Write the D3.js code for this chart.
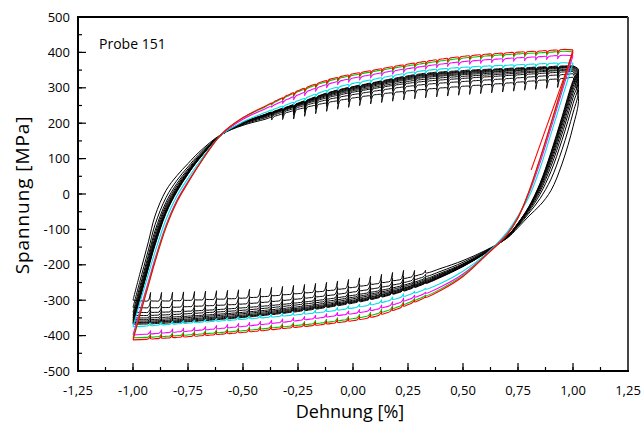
<!DOCTYPE html>
<html><head><meta charset="utf-8">
<script src="https://cdn.jsdelivr.net/npm/d3@7"></script>
<style>body{margin:0;background:#fff}svg{display:block}</style>
</head><body>
<svg id="chart" width="644" height="423"></svg>
<script>
// ---------- data ----------
const xTicks = [-1.25,-1.0,-0.75,-0.5,-0.25,0,0.25,0.5,0.75,1.0,1.25];
const yTicks = [-500,-400,-300,-200,-100,0,100,200,300,400,500];
const upperStrain = [-1.0,-0.97,-0.93,-0.9,-0.85,-0.8,-0.75,-0.7,-0.6,-0.5,-0.4,-0.25,-0.1,0.1,0.3,0.5,0.7,0.85,1.0];
const lowerStrainBlack = [1.0,1.025,1.0,0.95,0.9,0.85,0.8,0.75,0.7,0.6,0.5,0.4,0.25,0.1,-0.1,-0.3,-0.5,-0.7,-0.85,-1.0];
const lowerStrainColor = [1.0,0.97,0.93,0.9,0.85,0.8,0.75,0.7,0.6,0.5,0.4,0.25,0.1,-0.1,-0.3,-0.5,-0.7,-0.85,-1.0];
const holdStrains = [-0.92,-0.87,-0.82,-0.77,-0.72,-0.67,-0.62,-0.57,-0.52,-0.47,-0.42,-0.37,-0.32,-0.27,-0.22,-0.17,-0.12,-0.07,-0.02,0.03,0.08,0.13,0.18,0.23,0.28,0.33,0.38,0.43,0.48,0.53,0.58,0.63,0.68,0.73,0.78,0.83,0.88,0.93];

// black cycles (stress in MPa at the strain grids)
const blackUpper = [
  [-300,-228,-135,-62,10,52,86,118,168,194,211,237,258,278,292,302,311,319,330],
  [-320,-250,-158,-87,-10,39,77,112,167,196,215,243,267,289,306,316,324,331,340],
  [-334,-264,-173,-104,-23,30,71,108,167,198,218,247,273,297,315,325,333,339,346],
  [-343,-273,-182,-114,-31,24,67,105,167,199,220,249,277,301,321,331,338,344,350],
  [-350,-281,-190,-123,-37,19,64,103,167,200,221,251,280,305,326,336,342,347,353],
  [-355,-286,-196,-129,-43,16,62,102,166,200,222,252,282,308,329,339,346,351,356],
  [-359,-291,-200,-134,-47,13,60,101,166,201,223,254,284,310,332,342,348,353,358],
  [-363,-294,-204,-138,-50,11,58,100,166,201,224,254,286,312,334,344,351,355,359],
  [-365,-297,-207,-142,-52,9,57,99,166,202,224,255,287,314,336,346,352,356,361],
  [-368,-300,-210,-145,-55,7,56,98,166,202,225,256,288,315,338,348,354,358,362]
];
const blackLower = [
  [330,270,190,85,10,-32,-62,-95,-125,-160,-188,-210,-235,-252,-270,-282,-292,-297,-300,-300],
  [340,295,229,125,42,-13,-54,-91,-124,-162,-193,-218,-246,-265,-284,-298,-309,-315,-319,-320],
  [346,311,255,152,64,-1,-49,-89,-123,-164,-197,-223,-253,-274,-294,-309,-320,-328,-332,-334],
  [350,322,272,169,78,7,-45,-87,-122,-165,-199,-226,-257,-279,-300,-315,-327,-335,-340,-343],
  [353,330,285,182,89,13,-42,-86,-121,-166,-200,-228,-261,-283,-305,-321,-333,-342,-347,-350],
  [356,336,295,193,97,18,-40,-84,-121,-166,-202,-230,-263,-287,-309,-325,-337,-346,-352,-355],
  [358,341,303,201,104,22,-39,-84,-121,-167,-203,-232,-265,-289,-312,-328,-341,-350,-356,-359],
  [359,345,310,207,109,25,-37,-83,-120,-167,-204,-233,-267,-292,-314,-331,-344,-353,-359,-363],
  [361,349,315,213,114,28,-36,-83,-120,-168,-204,-234,-269,-293,-316,-333,-346,-356,-361,-365],
  [362,352,320,218,118,30,-35,-82,-120,-168,-205,-235,-270,-295,-318,-335,-348,-358,-364,-368]
];
const blackRelax = [22,17,14,12,10,9,8,7,6,6];

// coloured cycles
const colorNames = ["cyan","magenta","green","red"];
const colorStroke = ["#00e0e8","#ff00ff","#00c800","#ff0000"];
const colorUpper = [
  [-375,-310,-226,-164,-72,-5,44,89,166,204,230,263,296,324,346,357,363,367,370],
  [-398,-333,-247,-183,-88,-17,35,83,167,211,240,279,312,338,358,373,382,387,391],
  [-406,-341,-254,-189,-92,-20,33,82,168,215,246,288,320,346,366,383,393,398,402],
  [-412,-346,-258,-192,-95,-22,32,82,168,216,248,291,324,350,371,388,398,403,407]
];
const colorLower = [
  [370,310,230,170,72,-8,-62,-108,-172,-218,-252,-285,-310,-330,-343,-353,-362,-368,-375],
  [391,330,248,187,88,2,-64,-112,-174,-226,-262,-298,-326,-345,-360,-373,-384,-391,-398],
  [402,340,258,197,98,6,-66,-114,-175,-230,-268,-307,-339,-360,-373,-385,-395,-401,-406],
  [407,345,262,200,100,8,-68,-116,-176,-233,-272,-312,-345,-365,-378,-390,-400,-406,-412]
];
const colorRelax = [7,8,8,8];
const redStart = [[0.81,68],[1.0,400]];
const upperHoldRange = [-0.37, 0.93];
const lowerHoldRange = [-0.92, 0.33];

// ---------- scales ----------
const svg = d3.select("#chart");
const x = d3.scaleLinear().domain([-1.25,1.25]).range([78,628]);
const y = d3.scaleLinear().domain([-500,500]).range([371,17]);
const FONT = "'Open Sans', 'DejaVu Sans', sans-serif";

// smooth base curve through grid points (monotone ascending xs)
function hermite(xs, ys){
  const n = xs.length, m = [];
  for(let i=0;i<n;i++){
    if(i===0) m.push((ys[1]-ys[0])/(xs[1]-xs[0]));
    else if(i===n-1) m.push((ys[n-1]-ys[n-2])/(xs[n-1]-xs[n-2]));
    else m.push(0.5*((ys[i+1]-ys[i])/(xs[i+1]-xs[i]) + (ys[i]-ys[i-1])/(xs[i]-xs[i-1])));
  }
  return t => {
    let i = 0;
    while(i < n-2 && t > xs[i+1]) i++;
    const h = xs[i+1]-xs[i], s = (t-xs[i])/h;
    const s2=s*s, s3=s2*s;
    return (2*s3-3*s2+1)*ys[i] + (s3-2*s2+s)*h*m[i] + (-2*s3+3*s2)*ys[i+1] + (s3-s2)*h*m[i+1];
  };
}

// build a branch with relaxation holds; dir=+1 loading (upper), -1 unloading (lower)
function branch(grid, vals, relax, dir){
  const pairs = grid.map((g,i)=>[g, vals[i]]);
  const mono = pairs.filter(p => p[0] <= 0.975).sort((a,b)=>a[0]-b[0]);
  const f = hermite(mono.map(p=>p[0]), mono.map(p=>p[1]));
  const range = dir>0 ? upperHoldRange : lowerHoldRange;
  let holds = holdStrains.filter(h => h >= range[0]-1e-9 && h <= range[1]+1e-9);
  if(dir<0) holds = holds.slice().reverse();
  const first = holds[0], last = holds[holds.length-1];
  const pts = [];
  pairs.forEach(p => { if(dir>0 ? p[0] < first-0.02 : p[0] > first+0.02) pts.push(p); });
  const sgn = dir>0 ? -1 : 1; // relaxation direction of stress
  holds.forEach((h,k) => {
    const d = relax * Math.min(1, (k+1)/3);
    pts.push([h, f(h)]);
    pts.push([h, f(h) + sgn*d]);
    const off = [0.004, 0.012, 0.026];
    const fr = [0.45, -0.08, -0.1];
    off.forEach((o,j) => { const e = h + dir*o; pts.push([e, f(e) + sgn*d*fr[j]]); });
  });
  pairs.forEach(p => { if(dir>0 ? p[0] > last+0.04 : p[0] < last-0.04) pts.push(p); });
  return pts;
}

const line = d3.line().x(d=>x(d[0])).y(d=>y(d[1])).curve(d3.curveCatmullRom.alpha(0.5));

const plot = svg.append("g");
blackUpper.forEach((u,i) => {
  plot.append("path").attr("d", line(branch(upperStrain, u, blackRelax[i], 1)))
    .attr("fill","none").attr("stroke","#000").attr("stroke-width",1);
  plot.append("path").attr("d", line(branch(lowerStrainBlack, blackLower[i], blackRelax[i], -1)))
    .attr("fill","none").attr("stroke","#000").attr("stroke-width",1);
});
colorUpper.forEach((u,i) => {
  plot.append("path").attr("class", colorNames[i]).attr("d", line(branch(upperStrain, u, colorRelax[i], 1)))
    .attr("fill","none").attr("stroke",colorStroke[i]).attr("stroke-width",1.1);
  plot.append("path").attr("class", colorNames[i]).attr("d", line(branch(lowerStrainColor, colorLower[i], colorRelax[i], -1)))
    .attr("fill","none").attr("stroke",colorStroke[i]).attr("stroke-width",1.1);
});
plot.append("path").attr("d", d3.line().x(d=>x(d[0])).y(d=>y(d[1]))(redStart))
  .attr("fill","none").attr("stroke","#ff0000").attr("stroke-width",1.1);

// ---------- axes ----------
const minorX = d3.range(-1.25, 1.2501, 0.125);
const minorY = d3.range(-500, 501, 50);
const ax = svg.append("g");
minorX.forEach(v => ax.append("line").attr("x1",x(v)).attr("x2",x(v)).attr("y1",371).attr("y2",367).attr("stroke","#000").attr("stroke-width",1.2));
minorY.forEach(v => ax.append("line").attr("x1",78).attr("x2",82).attr("y1",y(v)).attr("y2",y(v)).attr("stroke","#000").attr("stroke-width",1.2));
xTicks.forEach(v => ax.append("line").attr("x1",x(v)).attr("x2",x(v)).attr("y1",371).attr("y2",363).attr("stroke","#000").attr("stroke-width",1.2));
yTicks.forEach(v => ax.append("line").attr("x1",78).attr("x2",86).attr("y1",y(v)).attr("y2",y(v)).attr("stroke","#000").attr("stroke-width",1.2));
ax.append("line").attr("x1",78).attr("x2",628).attr("y1",17).attr("y2",17).attr("stroke","#000").attr("stroke-width",2);
ax.append("line").attr("x1",628).attr("x2",628).attr("y1",17).attr("y2",371).attr("stroke","#444").attr("stroke-width",2);
ax.append("line").attr("x1",78).attr("x2",78).attr("y1",16).attr("y2",372).attr("stroke","#000").attr("stroke-width",2);
ax.append("line").attr("x1",77).attr("x2",629).attr("y1",371).attr("y2",371).attr("stroke","#000").attr("stroke-width",2);

const fmt = v => d3.format(".2f")(v).replace(".", ",").replace("−","-");
ax.selectAll(".xl").data(xTicks).enter().append("text")
  .attr("x", d=>x(d)).attr("y", 394.5).attr("text-anchor","middle")
  .style("font-family",FONT).style("font-size","13px").attr("fill","#000").text(fmt);
ax.selectAll(".yl").data(yTicks).enter().append("text")
  .attr("x", 70).attr("y", d=>y(d)+4.5).attr("text-anchor","end")
  .style("font-family",FONT).style("font-size","13px").attr("fill","#000").text(d=>String(d));

svg.append("text").attr("x",350).attr("y",418).attr("text-anchor","middle")
  .style("font-family",FONT).style("font-size","18px").text("Dehnung [%]");
svg.append("text").attr("transform","translate(29,195) rotate(-90)").attr("text-anchor","middle")
  .style("font-family",FONT).style("font-size","19px").style("letter-spacing","0.9px").text("Spannung [MPa]");
svg.append("text").attr("x",99).attr("y",49).style("font-family",FONT).style("font-size","14px").text("Probe 151");
</script>
</body></html>
